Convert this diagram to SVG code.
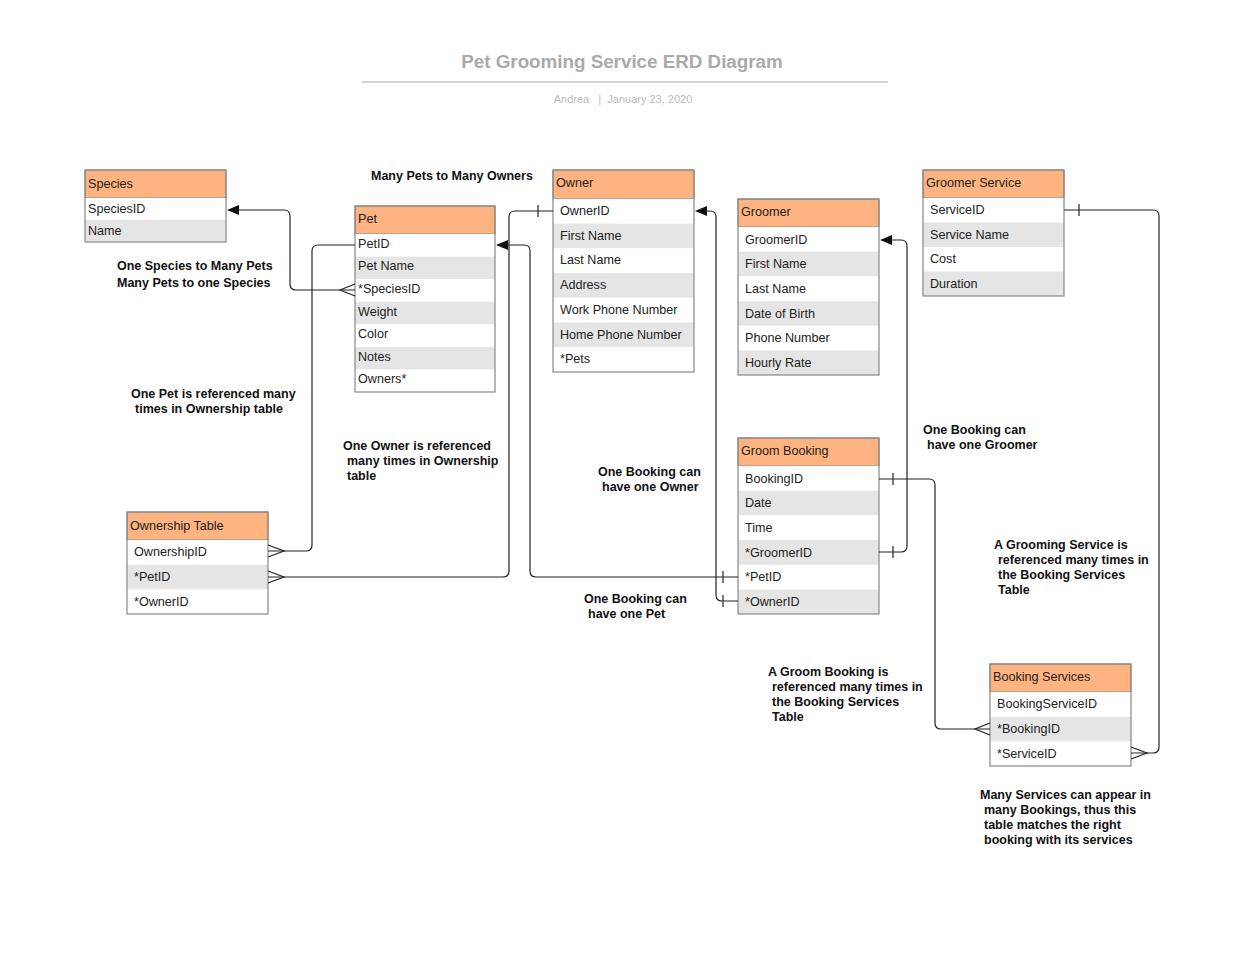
<svg xmlns="http://www.w3.org/2000/svg" width="1243" height="960" viewBox="0 0 1243 960">
<style>
.hd{fill:#FFB380;stroke:#888;stroke-width:1}
.rw{fill:#fff}
.rg{fill:#E5E5E5}
.bx{fill:none;stroke:#888;stroke-width:1.2}
.t{font-family:"Liberation Sans",Arial,sans-serif;font-size:12.6px;fill:#222}
.lb{font-family:"Liberation Sans",Arial,sans-serif;font-size:12.5px;font-weight:bold;fill:#111}
.c{fill:none;stroke:#222;stroke-width:1.2}
.ah{fill:#111}
</style>
<rect width="1243" height="960" fill="#fff"/>
<g id="title">
<text x="622" y="68" text-anchor="middle" font-family="Liberation Sans,Arial,sans-serif" font-size="18.8" font-weight="bold" fill="#AAAAAA">Pet Grooming Service ERD Diagram</text>
<line x1="362" y1="82" x2="888" y2="82" stroke="#AAAAAA" stroke-width="1.2"/>
<text x="623" y="103" text-anchor="middle" font-family="Liberation Sans,Arial,sans-serif" font-size="11" fill="#BBBBBB" xml:space="preserve">Andrea   |  January 23, 2020</text>
</g>

<g id="species">
<rect class="hd" x="85" y="170" width="141" height="28"/>
<rect class="rw" x="85" y="198" width="141" height="22"/>
<rect class="rg" x="85" y="220" width="141" height="22"/>
<rect class="bx" x="85" y="170" width="141" height="72"/>
<text class="t" x="88" y="188">Species</text>
<text class="t" x="88" y="213">SpeciesID</text>
<text class="t" x="88" y="235">Name</text>
</g>

<g id="pet">
<rect class="hd" x="355" y="206" width="140" height="28"/>
<rect class="rw" x="355" y="234" width="140" height="22.6"/>
<rect class="rg" x="355" y="256.6" width="140" height="22.6"/>
<rect class="rw" x="355" y="279.2" width="140" height="22.6"/>
<rect class="rg" x="355" y="301.8" width="140" height="22.6"/>
<rect class="rw" x="355" y="324.4" width="140" height="22.6"/>
<rect class="rg" x="355" y="347" width="140" height="22.6"/>
<rect class="rw" x="355" y="369.6" width="140" height="22.4"/>
<rect class="bx" x="355" y="206" width="140" height="186"/>
<text class="t" x="358" y="223">Pet</text>
<text class="t" x="358" y="248">PetID</text>
<text class="t" x="358" y="270">Pet Name</text>
<text class="t" x="358" y="293">*SpeciesID</text>
<text class="t" x="358" y="316">Weight</text>
<text class="t" x="358" y="338">Color</text>
<text class="t" x="358" y="361">Notes</text>
<text class="t" x="358" y="383">Owners*</text>
</g>

<g id="owner">
<rect class="hd" x="553" y="170" width="141" height="29"/>
<rect class="rw" x="553" y="199" width="141" height="24.7"/>
<rect class="rg" x="553" y="223.7" width="141" height="24.7"/>
<rect class="rw" x="553" y="248.4" width="141" height="24.7"/>
<rect class="rg" x="553" y="273.1" width="141" height="24.7"/>
<rect class="rw" x="553" y="297.8" width="141" height="24.7"/>
<rect class="rg" x="553" y="322.5" width="141" height="24.7"/>
<rect class="rw" x="553" y="347.2" width="141" height="24.8"/>
<rect class="bx" x="553" y="170" width="141" height="202"/>
<text class="t" x="556" y="187">Owner</text>
<text class="t" x="560" y="215">OwnerID</text>
<text class="t" x="560" y="240">First Name</text>
<text class="t" x="560" y="264">Last Name</text>
<text class="t" x="560" y="289">Address</text>
<text class="t" x="560" y="314">Work Phone Number</text>
<text class="t" x="560" y="339">Home Phone Number</text>
<text class="t" x="560" y="363">*Pets</text>
</g>

<g id="groomer">
<rect class="hd" x="738" y="199" width="141" height="28"/>
<rect class="rw" x="738" y="227" width="141" height="24.7"/>
<rect class="rg" x="738" y="251.7" width="141" height="24.7"/>
<rect class="rw" x="738" y="276.4" width="141" height="24.7"/>
<rect class="rg" x="738" y="301.1" width="141" height="24.7"/>
<rect class="rw" x="738" y="325.8" width="141" height="24.7"/>
<rect class="rg" x="738" y="350.5" width="141" height="24.5"/>
<rect class="bx" x="738" y="199" width="141" height="176"/>
<text class="t" x="741" y="216">Groomer</text>
<text class="t" x="745" y="244">GroomerID</text>
<text class="t" x="745" y="268">First Name</text>
<text class="t" x="745" y="293">Last Name</text>
<text class="t" x="745" y="318">Date of Birth</text>
<text class="t" x="745" y="342">Phone Number</text>
<text class="t" x="745" y="367">Hourly Rate</text>
</g>

<g id="groomer-service">
<rect class="hd" x="923" y="170" width="141" height="28"/>
<rect class="rw" x="923" y="198" width="141" height="24.5"/>
<rect class="rg" x="923" y="222.5" width="141" height="24.5"/>
<rect class="rw" x="923" y="247" width="141" height="24.5"/>
<rect class="rg" x="923" y="271.5" width="141" height="24.5"/>
<rect class="bx" x="923" y="170" width="141" height="126"/>
<text class="t" x="926" y="187">Groomer Service</text>
<text class="t" x="930" y="214">ServiceID</text>
<text class="t" x="930" y="239">Service Name</text>
<text class="t" x="930" y="263">Cost</text>
<text class="t" x="930" y="288">Duration</text>
</g>

<g id="ownership-table">
<rect class="hd" x="127" y="512" width="141" height="28"/>
<rect class="rw" x="127" y="540" width="141" height="24.7"/>
<rect class="rg" x="127" y="564.7" width="141" height="24.7"/>
<rect class="rw" x="127" y="589.4" width="141" height="24.6"/>
<rect class="bx" x="127" y="512" width="141" height="102"/>
<text class="t" x="130" y="530">Ownership Table</text>
<text class="t" x="134" y="556">OwnershipID</text>
<text class="t" x="134" y="581">*PetID</text>
<text class="t" x="134" y="606">*OwnerID</text>
</g>

<g id="groom-booking">
<rect class="hd" x="738" y="438" width="141" height="28"/>
<rect class="rw" x="738" y="466" width="141" height="24.7"/>
<rect class="rg" x="738" y="490.7" width="141" height="24.7"/>
<rect class="rw" x="738" y="515.4" width="141" height="24.7"/>
<rect class="rg" x="738" y="540.1" width="141" height="24.7"/>
<rect class="rw" x="738" y="564.8" width="141" height="24.7"/>
<rect class="rg" x="738" y="589.5" width="141" height="24.5"/>
<rect class="bx" x="738" y="438" width="141" height="176"/>
<text class="t" x="741" y="455">Groom Booking</text>
<text class="t" x="745" y="483">BookingID</text>
<text class="t" x="745" y="507">Date</text>
<text class="t" x="745" y="532">Time</text>
<text class="t" x="745" y="557">*GroomerID</text>
<text class="t" x="745" y="581">*PetID</text>
<text class="t" x="745" y="606">*OwnerID</text>
</g>

<g id="booking-services">
<rect class="hd" x="990" y="664" width="141" height="28"/>
<rect class="rw" x="990" y="692" width="141" height="24.7"/>
<rect class="rg" x="990" y="716.7" width="141" height="24.7"/>
<rect class="rw" x="990" y="741.4" width="141" height="24.6"/>
<rect class="bx" x="990" y="664" width="141" height="102"/>
<text class="t" x="993" y="681">Booking Services</text>
<text class="t" x="997" y="708">BookingServiceID</text>
<text class="t" x="997" y="733">*BookingID</text>
<text class="t" x="997" y="758">*ServiceID</text>
</g>

<g id="connectors">
<!-- Species - Pet -->
<path class="c" d="M236,210 H284 Q290,210 290,216 V284 Q290,290 296,290 H355"/>
<polygon class="ah" points="227,210 239,205 239,215"/>
<path class="c" d="M355,284 L340,290 L355,296"/>
<!-- Pet.PetID - Ownership -->
<path class="c" d="M355,245 H318 Q312,245 312,251 V545 Q312,551 306,551 H268"/>
<path class="c" d="M268,545 L284,551 L268,557"/>
<!-- Owner.OwnerID - Ownership *PetID -->
<path class="c" d="M553,211 H515 Q509,211 509,217 V571 Q509,577 503,577 H268"/>
<line class="c" x1="538" y1="205" x2="538" y2="217"/>
<path class="c" d="M268,571 L284,577 L268,583"/>
<!-- Pet.PetID - Booking *PetID -->
<path class="c" d="M505,245 H524 Q530,245 530,251 V571 Q530,577 536,577 H738"/>
<polygon class="ah" points="496,245 508,240 508,250"/>
<line class="c" x1="723" y1="571" x2="723" y2="583"/>
<!-- Owner.OwnerID - Booking *OwnerID -->
<path class="c" d="M704,211 H710 Q716,211 716,217 V595 Q716,601 722,601 H738"/>
<polygon class="ah" points="695,211 707,206 707,216"/>
<line class="c" x1="723" y1="595" x2="723" y2="607"/>
<!-- Groomer.GroomerID - Booking *GroomerID -->
<path class="c" d="M889,240 H901 Q907,240 907,246 V546 Q907,552 901,552 H879"/>
<polygon class="ah" points="880,240 892,235 892,245"/>
<line class="c" x1="893" y1="546" x2="893" y2="558"/>
<!-- Booking.BookingID - BookingServices *BookingID -->
<path class="c" d="M879,479 H929 Q935,479 935,485 V723 Q935,729 941,729 H990"/>
<line class="c" x1="893" y1="473" x2="893" y2="485"/>
<path class="c" d="M990,723 L975,729 L990,735"/>
<!-- GroomerService.ServiceID - BookingServices *ServiceID -->
<path class="c" d="M1064,210 H1153 Q1159,210 1159,216 V747 Q1159,753 1153,753 H1131"/>
<line class="c" x1="1079" y1="204" x2="1079" y2="216"/>
<path class="c" d="M1131,747 L1147,753 L1131,759"/>
</g>

<g id="labels">
<text class="lb" x="371" y="180">Many Pets to Many Owners</text>
<text class="lb" x="117" y="270">One Species to Many Pets</text>
<text class="lb" x="117" y="287">Many Pets to one Species</text>
<text class="lb" x="131" y="398">One Pet is referenced many</text>
<text class="lb" x="135" y="413">times in Ownership table</text>
<text class="lb" x="343" y="450">One Owner is referenced</text>
<text class="lb" x="347" y="465">many times in Ownership</text>
<text class="lb" x="347" y="480">table</text>
<text class="lb" x="598" y="476">One Booking can</text>
<text class="lb" x="602" y="491">have one Owner</text>
<text class="lb" x="584" y="603">One Booking can</text>
<text class="lb" x="588" y="618">have one Pet</text>
<text class="lb" x="923" y="434">One Booking can</text>
<text class="lb" x="927" y="449">have one Groomer</text>
<text class="lb" x="994" y="549">A Grooming Service is</text>
<text class="lb" x="998" y="564">referenced many times in</text>
<text class="lb" x="998" y="579">the Booking Services</text>
<text class="lb" x="998" y="594">Table</text>
<text class="lb" x="768" y="676">A Groom Booking is</text>
<text class="lb" x="772" y="691">referenced many times in</text>
<text class="lb" x="772" y="706">the Booking Services</text>
<text class="lb" x="772" y="721">Table</text>
<text class="lb" x="980" y="799">Many Services can appear in</text>
<text class="lb" x="984" y="814">many Bookings, thus this</text>
<text class="lb" x="984" y="829">table matches the right</text>
<text class="lb" x="984" y="844">booking with its services</text>
</g>
</svg>
